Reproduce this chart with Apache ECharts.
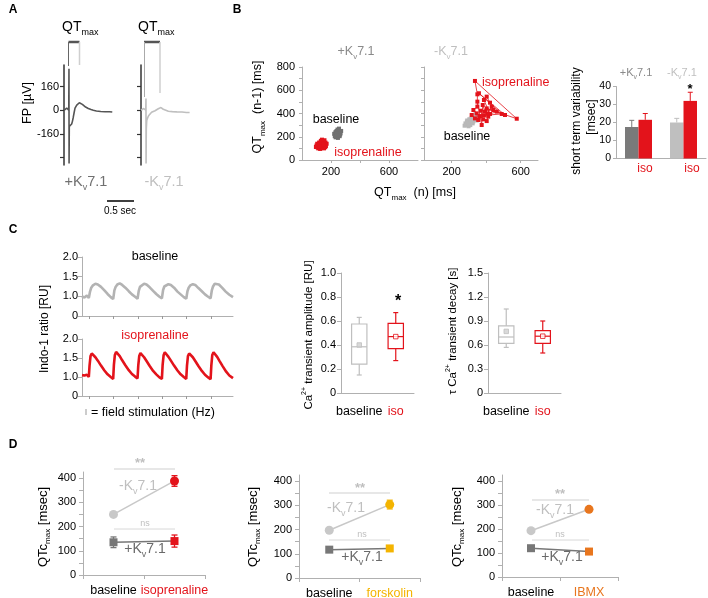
<!DOCTYPE html>
<html><head><meta charset="utf-8">
<script src="https://cdn.jsdelivr.net/npm/echarts@6/dist/echarts.min.js"></script>
<style>html,body{margin:0;padding:0;background:#fff}#c{width:708px;height:598px}</style>
</head><body><div id="c"></div><script>
// ---------------- DATA ----------------
// Panel A: field potential traces (time ms, µV)
const fpPlusT  = [0,15,25,35,44,46,47,49,56,64,71,78,86,94,102,110,118,130,142,155,170,185,200,225,250,271,300,340,380,420,447];
const fpPlusV  = [0,5,15,10,0,280,-360,-110,-104,-100,-93,-75,-47,-15,14,25,35,45,51,48,40,30,22,12,5,0,-5,-8,-10,-10,-12];
const fpMinusT = [0,15,25,32,38,44,46,47,49,53,62,72,83,98,114,130,145,160,170,176,185,195,206,230,253,290,331,380,420,450];
const fpMinusV = [0,3,12,15,5,0,80,-360,-130,-70,-50,-35,-23,-14,-7,-3,0,10,20,23,18,12,7,0,-7,-9,-11,-12,-15,-15];
const fpTicks  = [160,0,-160,-320];
const fpLabels = [160,0,-160];

// Panel B: Poincaré plots QTmax(n) vs QTmax(n-1) [ms]
const pcPlusBase = [[228,215],[235,230],[242,222],[250,240],[238,250],[245,262],[255,255],[262,245],[250,228],[240,205],[232,195],[245,200],[258,215],[265,232],[270,250],[255,270],[242,245],[230,238],[222,225],[236,212],[248,190],[260,205],[252,235],[244,218],[236,240],[226,205],[256,248],[264,222],[240,232],[250,210]];
const pcPlusIso = [[110,120],[118,135],[125,110],[135,140],[128,150],[140,125],[150,118],[158,135],[162,150],[145,160],[130,165],[118,150],[105,140],[100,125],[112,100],[125,95],[140,105],[152,100],[165,120],[170,140],[155,170],[138,175],[122,130],[132,128],[146,142],[108,108],[96,112],[160,110],[148,130],[120,118]];
const pcMinusBase = [[285,300],[295,320],[305,310],[300,335],[315,345],[325,330],[335,350],[320,365],[340,375],[350,360],[330,385],[310,355],[290,340],[280,315],[275,295],[298,290],[312,325],[328,345],[345,340],[355,380],[338,395],[318,380],[302,350],[288,330],[308,300],[322,315],[342,362],[296,305],[315,338],[332,368]];
const pcMinusIso = [[316,387],[335,358],[354,344],[345,401],[364,378],[326,430],[349,459],[349,565],[335,680],[577,355],[403,444],[509,387],[358,574],[490,396],[387,384],[412,373],[403,335],[383,350],[368,424],[441,430],[461,416],[422,396],[387,516],[403,545],[422,493],[432,459],[407,401],[393,416],[380,473],[374,301],[349,502]];
const pcXLabels = [200,600];
const pcYLabels = [0,200,400,600,800];
const pcYTicks  = [0,100,200,300,400,500,600,700,800];

// Panel B: short term variability [msec]
const stvGroups  = ['+Kv7.1','-Kv7.1'];
const stvBase    = [17.5, 20];
const stvBaseErr = [3.7, 2.3];
const stvIso     = [21.5, 32];
const stvIsoErr  = [3.5, 4.8];

// Panel C: Indo-1 ratio traces (time s, ratio)
const caBaseT = [0.00,0.10,0.20,0.28,0.33,0.38,0.45,0.55,0.65,0.78,0.92,1.05,1.18,1.28,1.33,1.38,1.45,1.55,1.65,1.78,1.92,2.05,2.18,2.28,2.33,2.38,2.45,2.55,2.65,2.78,2.92,3.05,3.18,3.28,3.33,3.38,3.45,3.55,3.65,3.78,3.92,4.05,4.18,4.28,4.33,4.38,4.45,4.55,4.65,4.78,4.92,5.05,5.18,5.28,5.33,5.38,5.45,5.52,5.62,5.75,5.90,6.05,6.20];
const caBaseV = [1.00,0.97,1.02,0.96,1.12,1.22,1.28,1.32,1.30,1.24,1.15,1.06,0.98,0.93,1.15,1.24,1.30,1.33,1.29,1.22,1.13,1.05,0.99,0.94,1.14,1.24,1.29,1.32,1.30,1.23,1.14,1.06,0.99,0.95,1.16,1.25,1.30,1.31,1.29,1.22,1.12,1.05,0.98,0.94,1.13,1.22,1.28,1.31,1.29,1.21,1.13,1.05,0.99,0.95,1.15,1.25,1.32,1.37,1.30,1.22,1.12,1.04,0.98];
const caIsoT = [0.00,0.10,0.20,0.28,0.31,0.35,0.40,0.47,0.55,0.65,0.78,0.92,1.05,1.18,1.28,1.31,1.35,1.40,1.47,1.55,1.65,1.78,1.92,2.05,2.18,2.28,2.31,2.35,2.40,2.47,2.55,2.65,2.78,2.92,3.05,3.18,3.28,3.31,3.35,3.40,3.47,3.55,3.65,3.78,3.92,4.05,4.18,4.28,4.31,4.35,4.40,4.47,4.55,4.65,4.78,4.92,5.05,5.18,5.28,5.31,5.35,5.40,5.47,5.55,5.65,5.78,5.92,6.05,6.20];
const caIsoV = [1.05,1.04,1.06,1.00,1.30,1.55,1.62,1.60,1.52,1.43,1.30,1.17,1.07,1.00,0.95,1.32,1.58,1.66,1.62,1.55,1.44,1.31,1.18,1.08,1.01,0.96,1.30,1.55,1.63,1.59,1.52,1.42,1.29,1.16,1.07,0.99,0.95,1.31,1.57,1.65,1.61,1.53,1.43,1.30,1.17,1.07,1.00,0.95,1.29,1.55,1.62,1.60,1.52,1.42,1.29,1.16,1.06,0.99,0.94,1.30,1.58,1.65,1.60,1.53,1.42,1.28,1.14,1.04,0.97];
const stimTimes = [0.3,1.3,2.3,3.3,4.3,5.3];

// Panel C: box plots [min, q1, median, q3, max] and means
const boxCats  = ['baseline','iso'];
const ampBox   = [[0.15,0.24,0.385,0.575,0.63],[0.27,0.37,0.47,0.58,0.67]];
const ampMean  = [0.40, 0.47];
const tauBox   = [[0.57,0.62,0.70,0.84,1.05],[0.50,0.62,0.71,0.78,0.90]];
const tauMean  = [0.77, 0.71];

// Panel D: QTcmax [msec]
const dCats1 = ['baseline','isoprenaline'];
const dCats2 = ['baseline','forskolin'];
const dCats3 = ['baseline','IBMX'];
const qtcMinus1 = [250, 388], qtcMinusErr1 = [0, 22];
const qtcPlus1  = [135, 140], qtcPlusErr1  = [22, 25];
const qtcMinus2 = [197, 303], qtcMinusErr2 = [0, 18];
const qtcPlus2  = [117, 122], qtcPlusErr2  = [0, 0];
const qtcMinus3 = [193, 282], qtcMinusErr3 = [0, 0];
const qtcPlus3  = [120, 106], qtcPlusErr3  = [0, 0];
const qtcLabels = [0,100,200,300,400];
const qtcTicks  = [0,50,100,150,200,250,300,350,400];

// ---------------- STYLE ----------------
const FONT = '"Liberation Sans", Arial, Helvetica, sans-serif';
const RED = '#e3131b', DARK = '#6f6f6f', LIGHT = '#bfbfbf', YEL = '#f4b400', ORG = '#e8761e';
const AX = '#b0b0b0';

const grids = [], xAxes = [], yAxes = [], series = [], graphics = [];
function addGrid(g){ grids.push(Object.assign({outerBoundsMode:'none', containLabel:false}, g)); return grids.length - 1; }
function lab(extra){ return Object.assign({color:'#000', fontSize:11, fontFamily:FONT}, extra || {}); }
function zip(a, b){ return a.map((v, i) => [v, b[i]]); }
function richFor(F, w){
  return {
    n:{fontSize:F, fontFamily:FONT, fontWeight:w},
    s:{fontSize:Math.round(F*0.62), fontFamily:FONT, fontWeight:w, padding:[Math.round(F*0.75),0,0,0]},
    p:{fontSize:Math.round(F*0.62), fontFamily:FONT, fontWeight:w, padding:[0,0,Math.round(F*0.75),0]}
  };
}
function txt(x, y, text, o){
  o = o || {};
  const F = o.size || 12.5, w = o.weight || 'normal';
  graphics.push({type:'text', x:x, y:y, rotation:o.rot || 0, z:100, silent:true,
    style:{text:text, fill:o.color || '#000', fontSize:F, fontFamily:FONT, fontWeight:w,
      align:o.align || 'center', verticalAlign:'middle', rich:richFor(F, w)}});
}
function ln(x1, y1, x2, y2, color, w){
  graphics.push({type:'line', z:100, silent:true, shape:{x1:x1,y1:y1,x2:x2,y2:y2}, style:{stroke:color, lineWidth:w}});
}
const kv = s => '{n|' + s + 'K}{s|v}{n|7.1}';
const R90 = Math.PI / 2;

// ---------------- PANEL A ----------------
function fpGrid(left, showLabels, T, V, color){
  const g = addGrid({left:left, top:65, width:48.6, height:100});
  xAxes.push({gridIndex:g, type:'value', min:0, max:450, show:false});
  yAxes.push({gridIndex:g, type:'value', min:-370, max:306,
    axisLine:{show:true, lineStyle:{color:'#333', width:1.5}},
    axisTick:{show:true, length:4, customValues:fpTicks, lineStyle:{color:'#333', width:1.2}},
    axisLabel:lab({show:showLabels, customValues:fpLabels, margin:5}),
    splitLine:{show:false}});
  series.push({type:'line', xAxisIndex:g, yAxisIndex:g, data:zip(T, V), symbol:'none',
    lineStyle:{color:color, width:1.6}, clip:false, z:5});
}
fpGrid(64, true, fpPlusT, fpPlusV, '#555');
fpGrid(141, false, fpMinusT, fpMinusV, LIGHT);

// ---------------- PANEL B scatter ----------------
function pcGrid(left, width, xmin, xmax, showY, base, iso, baseColor){
  const g = addGrid({left:left, top:67, width:width, height:93});
  xAxes.push({gridIndex:g, type:'value', min:xmin, max:xmax,
    axisLine:{show:true, lineStyle:{color:AX}},
    axisTick:{show:true, length:3, customValues:[200,400,600], lineStyle:{color:AX}},
    axisLabel:lab({customValues:pcXLabels, margin:6}), splitLine:{show:false}});
  yAxes.push({gridIndex:g, type:'value', min:0, max:800,
    axisLine:{show:true, lineStyle:{color:AX}},
    axisTick:{show:true, length:3, customValues:pcYTicks, lineStyle:{color:AX}},
    axisLabel:lab({show:showY, customValues:pcYLabels, margin:7}), splitLine:{show:false}});
  series.push({type:'line', xAxisIndex:g, yAxisIndex:g, data:base, symbol:'rect', symbolSize:4,
    itemStyle:{color:baseColor}, lineStyle:{color:baseColor, width:0.8}, z:4});
  series.push({type:'line', xAxisIndex:g, yAxisIndex:g, data:iso, symbol:'rect', symbolSize:4,
    itemStyle:{color:RED}, lineStyle:{color:RED, width:0.8}, z:5});
}
pcGrid(302, 116, 0, 800, true, pcPlusBase, pcPlusIso, '#707070');
pcGrid(424, 114, 40, 700, false, pcMinusBase, pcMinusIso, '#b8b8b8');

// ---------------- PANEL B bars ----------------
const gBar = addGrid({left:616, top:86.5, width:90, height:72});
xAxes.push({gridIndex:gBar, type:'category', data:stvGroups, axisLine:{show:true, lineStyle:{color:AX}},
  axisTick:{show:false}, axisLabel:{show:false}});
yAxes.push({gridIndex:gBar, type:'value', min:0, max:40, interval:10,
  axisLine:{show:true, lineStyle:{color:AX}}, axisTick:{show:true, length:3, lineStyle:{color:AX}},
  axisLabel:lab({fontSize:10.5, margin:5}), splitLine:{show:false}});
const BW = 13.5;
series.push({type:'bar', xAxisIndex:gBar, yAxisIndex:gBar, barWidth:BW, barGap:'0%',
  data:stvBase.map((v, i) => ({value:v, itemStyle:{color: i ? LIGHT : '#7a7a7a'}}))});
series.push({type:'bar', xAxisIndex:gBar, yAxisIndex:gBar, barWidth:BW, barGap:'0%',
  data:stvIso.map(v => ({value:v, itemStyle:{color:RED}}))});
function upErr(sign, colors){
  return function(params, api){
    const c = api.value(0), v = api.value(1), e = api.value(2);
    const p0 = api.coord([c, v]), p1 = api.coord([c, v + e]);
    const x = p0[0] + sign * BW / 2, col = colors[params.dataIndex];
    return {type:'group', children:[
      {type:'line', shape:{x1:x, y1:p0[1], x2:x, y2:p1[1]}, style:{stroke:col, lineWidth:1}},
      {type:'line', shape:{x1:x-2.5, y1:p1[1], x2:x+2.5, y2:p1[1]}, style:{stroke:col, lineWidth:1}}]};
  };
}
series.push({type:'custom', xAxisIndex:gBar, yAxisIndex:gBar, z:1,
  data:stvBase.map((v, i) => [i, v, stvBaseErr[i]]), renderItem:upErr(-1, ['#7a7a7a', LIGHT])});
series.push({type:'custom', xAxisIndex:gBar, yAxisIndex:gBar, z:1,
  data:stvIso.map((v, i) => [i, v, stvIsoErr[i]]), renderItem:upErr(1, [RED, RED])});

// ---------------- PANEL C traces ----------------
function caGrid(top, height, T, V, color){
  const g = addGrid({left:82, top:top, width:151, height:height});
  xAxes.push({gridIndex:g, type:'value', min:0, max:6.2,
    axisLine:{show:true, lineStyle:{color:AX}},
    axisTick:{show:true, length:3, customValues:stimTimes, lineStyle:{color:'#999'}},
    axisLabel:{show:false}, splitLine:{show:false}});
  yAxes.push({gridIndex:g, type:'value', min:0.5, max:2.0, interval:0.5,
    axisLine:{show:true, lineStyle:{color:AX}},
    axisTick:{show:true, length:4, lineStyle:{color:AX}},
    axisLabel:lab({margin:4, formatter: v => (v === 0.5 ? '0' : v.toFixed(1))}), splitLine:{show:false}});
  series.push({type:'line', xAxisIndex:g, yAxisIndex:g, data:zip(T, V), symbol:'none',
    lineStyle:{color:color, width:2.6}});
}
caGrid(257, 59, caBaseT, caBaseV, '#b3b3b3');
caGrid(339, 57, caIsoT, caIsoV, RED);

// ---------------- PANEL C boxes ----------------
function boxGrid(left, max, interval, boxes, means, fmt){
  const g = addGrid({left:left, top:273, width:73, height:120});
  xAxes.push({gridIndex:g, type:'category', data:[{value:boxCats[0]}, {value:boxCats[1], textStyle:{color:RED}}],
    axisLine:{show:true, lineStyle:{color:AX}}, axisTick:{show:false},
    axisLabel:lab({fontSize:12.5, margin:12, interval:0})});
  yAxes.push({gridIndex:g, type:'value', min:0, max:max, interval:interval,
    axisLine:{show:true, lineStyle:{color:AX}}, axisTick:{show:true, length:4, lineStyle:{color:AX}},
    axisLabel:lab({margin:5, formatter:fmt}), splitLine:{show:false}});
  const cols = [LIGHT, RED];
  series.push({type:'custom', xAxisIndex:g, yAxisIndex:g,
    data:boxes.map((b, i) => [i].concat(b)),
    renderItem:function(params, api){
      const c = api.value(0), col = cols[params.dataIndex];
      const hw = api.size([1, 0])[0] * 0.21;
      const pMin = api.coord([c, api.value(1)]), pQ1 = api.coord([c, api.value(2)]),
            pMed = api.coord([c, api.value(3)]), pQ3 = api.coord([c, api.value(4)]),
            pMax = api.coord([c, api.value(5)]);
      const x = pMed[0], st = {stroke:col, lineWidth:1.2, fill:null};
      return {type:'group', children:[
        {type:'rect', shape:{x:x-hw, y:pQ3[1], width:2*hw, height:pQ1[1]-pQ3[1]}, style:{stroke:col, lineWidth:1.2, fill:'rgba(0,0,0,0)'}},
        {type:'line', shape:{x1:x-hw, y1:pMed[1], x2:x+hw, y2:pMed[1]}, style:st},
        {type:'line', shape:{x1:x, y1:pQ3[1], x2:x, y2:pMax[1]}, style:st},
        {type:'line', shape:{x1:x, y1:pQ1[1], x2:x, y2:pMin[1]}, style:st},
        {type:'line', shape:{x1:x-2.5, y1:pMax[1], x2:x+2.5, y2:pMax[1]}, style:st},
        {type:'line', shape:{x1:x-2.5, y1:pMin[1], x2:x+2.5, y2:pMin[1]}, style:st}]};
    }});
  series.push({type:'scatter', xAxisIndex:g, yAxisIndex:g, symbol:'rect', symbolSize:4.5, z:5,
    data:means.map((m, i) => ({value:[i, m], itemStyle:{color: i ? '#fff' : '#d0d0d0', borderColor:cols[i], borderWidth:1}}))});
}
boxGrid(341, 1.0, 0.2, ampBox, ampMean, v => (v === 0 ? '0' : v.toFixed(1)));
boxGrid(488, 1.5, 0.3, tauBox, tauMean, v => (v === 0 ? '0' : v.toFixed(1)));

// ---------------- PANEL D ----------------
function dGrid(left, top, width, height, cats, treatColor, minus, minusErr, plus, plusErr){
  const g = addGrid({left:left, top:top, width:width, height:height});
  xAxes.push({gridIndex:g, type:'category', data:[{value:cats[0]}, {value:cats[1], textStyle:{color:treatColor}}],
    axisLine:{show:true, lineStyle:{color:AX}}, axisTick:{show:true, length:4, lineStyle:{color:AX}},
    axisLabel:lab({fontSize:12.5, margin:9, interval:0})});
  yAxes.push({gridIndex:g, type:'value', min:0, max:425,
    axisLine:{show:true, lineStyle:{color:AX}},
    axisTick:{show:true, length:4, customValues:qtcTicks, lineStyle:{color:AX}},
    axisLabel:lab({customValues:qtcLabels, margin:7}), splitLine:{show:false}});
  function errR(colors){
    return function(params, api){
      const c = api.value(0), v = api.value(1), e = api.value(2);
      if (!e) return null;
      const pa = api.coord([c, v - e]), pb = api.coord([c, v + e]), col = colors[params.dataIndex];
      const st = {stroke:col, lineWidth:1.3};
      return {type:'group', children:[
        {type:'line', shape:{x1:pa[0], y1:pa[1], x2:pb[0], y2:pb[1]}, style:st},
        {type:'line', shape:{x1:pa[0]-3, y1:pa[1], x2:pa[0]+3, y2:pa[1]}, style:st},
        {type:'line', shape:{x1:pb[0]-3, y1:pb[1], x2:pb[0]+3, y2:pb[1]}, style:st}]};
    };
  }
  series.push({type:'custom', xAxisIndex:g, yAxisIndex:g, z:2,
    data:minus.map((v, i) => [i, v, minusErr[i]]), renderItem:errR([LIGHT, treatColor])});
  series.push({type:'custom', xAxisIndex:g, yAxisIndex:g, z:2,
    data:plus.map((v, i) => [i, v, plusErr[i]]), renderItem:errR(['#777', treatColor])});
  series.push({type:'line', xAxisIndex:g, yAxisIndex:g, z:3, symbol:'circle', symbolSize:9,
    lineStyle:{color:'#c8c8c8', width:1.5},
    data:minus.map((v, i) => ({value:v, itemStyle:{color: i ? treatColor : '#c8c8c8'}}))});
  series.push({type:'line', xAxisIndex:g, yAxisIndex:g, z:3, symbol:'rect', symbolSize:8,
    lineStyle:{color:'#777', width:1.5},
    data:plus.map((v, i) => ({value:v, itemStyle:{color: i ? treatColor : '#777'}}))});
}
dGrid(83, 472, 122, 103, dCats1, RED, qtcMinus1, qtcMinusErr1, qtcPlus1, qtcPlusErr1);
dGrid(299, 475, 121, 103, dCats2, YEL, qtcMinus2, qtcMinusErr2, qtcPlus2, qtcPlusErr2);
dGrid(502, 475, 116, 102, dCats3, ORG, qtcMinus3, qtcMinusErr3, qtcPlus3, qtcPlusErr3);

// ---------------- ANNOTATIONS ----------------
// panel letters
txt(13, 10, 'A', {size:12, weight:'bold'});
txt(237, 10, 'B', {size:12, weight:'bold'});
txt(13, 230, 'C', {size:12, weight:'bold'});
txt(13, 445, 'D', {size:12, weight:'bold'});

// A
txt(62, 27, '{n|QT}{s|max}', {size:14, align:'left'});
txt(138, 27, '{n|QT}{s|max}', {size:14, align:'left'});
ln(68.5, 42, 79.5, 42, '#555', 2.5); ln(68.5, 42, 68.5, 66, '#666', 1); ln(79.5, 42, 79.5, 65, '#cfcfcf', 1.5);
ln(144, 42, 160, 42, '#555', 2.5); ln(144.5, 42, 144.5, 97, '#aaa', 1); ln(160, 42, 160, 93, '#cfcfcf', 1.5);
txt(28, 103, 'FP [µV]', {size:12.5, rot:R90});
txt(86, 182, kv('+'), {size:14.5, color:'#707070'});
txt(164, 182, kv('-'), {size:14.5, color:LIGHT});
ln(107, 201, 134, 201, '#000', 1.5);
txt(120, 211, '0.5 sec', {size:10});

// B scatter
txt(356, 52, kv('+'), {size:12.5, color:'#8a8a8a'});
txt(451, 52, kv('-'), {size:12.5, color:LIGHT});
txt(258, 107, '{n|QT}{s|max}{n|  (n-1) [ms]}', {size:12.5, rot:R90});
txt(415, 193, '{n|QT}{s|max}{n|  (n) [ms]}', {size:12.5});
txt(336, 120, 'baseline', {size:12.5});
txt(368, 153, 'isoprenaline', {size:12.5, color:RED});
txt(482, 83, 'isoprenaline', {size:12.5, color:RED, align:'left'});
txt(467, 137, 'baseline', {size:12.5});

// B bars
txt(636, 73, kv('+'), {size:11, color:'#8a8a8a'});
txt(682, 73, kv('-'), {size:11, color:LIGHT});
txt(690, 89, '*', {size:13, weight:'bold'});
txt(645, 169, 'iso', {size:12, color:RED});
txt(692, 169, 'iso', {size:12, color:RED});
txt(577, 121, 'short term variability', {size:12, rot:R90});
txt(592, 117, '[msec]', {size:12, rot:R90});

// C
txt(155, 257, 'baseline', {size:12.5});
txt(155, 336, 'isoprenaline', {size:12.5, color:RED});
txt(45, 329, 'Indo-1 ratio [RU]', {size:12, rot:R90});
ln(86, 409, 86, 415, '#999', 1);
txt(91, 413, '= field stimulation (Hz)', {size:12.5, align:'left'});
txt(309, 335, '{n|Ca}{p|2+}{n| transient amplitude [RU]}', {size:11.5, rot:R90});
txt(453, 331, '{n|τ Ca}{p|2+}{n| transient decay [s]}', {size:11.5, rot:R90});
txt(398, 302, '*', {size:16, weight:'bold'});

// D
[[43, 527], [253, 527], [457, 527]].forEach(p => txt(p[0], p[1], '{n|QTc}{s|max}{n| [msec]}', {size:13, rot:R90}));
ln(114, 469, 175, 469, '#cfcfcf', 1); ln(114, 529, 175, 529, '#d8d8d8', 1);
txt(140, 463, '**', {size:13, color:LIGHT, weight:'bold'}); txt(145, 524, 'ns', {size:9, color:LIGHT});
txt(138, 486, kv('-'), {size:14, color:LIGHT}); txt(145, 549, kv('+'), {size:14, color:'#6a6a6a'});
ln(329, 493, 390, 493, '#cfcfcf', 1); ln(329, 540, 390, 540, '#d8d8d8', 1);
txt(360, 488, '**', {size:13, color:LIGHT, weight:'bold'}); txt(362, 535, 'ns', {size:9, color:LIGHT});
txt(346, 508, kv('-'), {size:14, color:LIGHT}); txt(362, 557, kv('+'), {size:14, color:'#6a6a6a'});
ln(532, 500, 589, 500, '#cfcfcf', 1); ln(532, 540, 589, 540, '#d8d8d8', 1);
txt(560, 494, '**', {size:13, color:LIGHT, weight:'bold'}); txt(560, 535, 'ns', {size:9, color:LIGHT});
txt(555, 510, kv('-'), {size:14, color:LIGHT}); txt(562, 557, kv('+'), {size:14, color:'#6a6a6a'});

const chart = echarts.init(document.getElementById('c'), null, {renderer:'canvas'});
chart.setOption({
  animation:false,
  backgroundColor:'#fff',
  grid:grids, xAxis:xAxes, yAxis:yAxes, series:series,
  graphic:{elements:graphics}
});
</script></body></html>
